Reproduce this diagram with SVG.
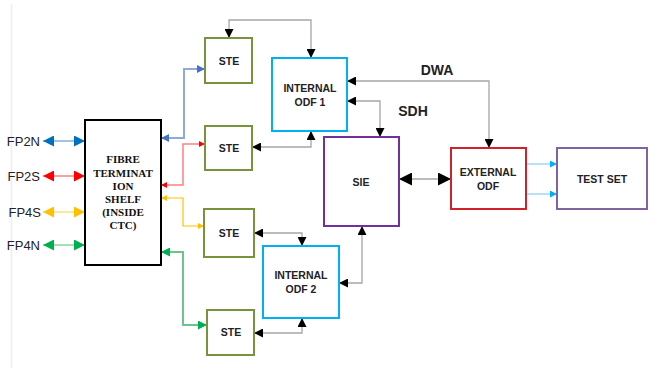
<svg xmlns="http://www.w3.org/2000/svg" width="649" height="370" viewBox="0 0 649 370">
<style>
.box{fill:#fff;stroke-width:2}
.ste{stroke:#77933c}
.odf{stroke:#00b0f0}
.lbl{font-family:"Liberation Sans",Arial,sans-serif;font-weight:bold;font-size:10.5px;fill:#222;text-anchor:middle}
.big{font-family:"Liberation Sans",Arial,sans-serif;font-weight:bold;font-size:14px;fill:#222;text-anchor:middle}
.fp{font-family:"Liberation Sans",Arial,sans-serif;font-size:13px;fill:#222;text-anchor:end}
.shelf{font-family:"Liberation Serif","Times New Roman",serif;font-weight:bold;font-size:11px;fill:#111;text-anchor:middle}
.g{fill:none;stroke:#a6a6a6;stroke-width:1.3;marker-start:url(#mk);marker-end:url(#mk)}
</style>
<defs>
<marker id="mk" viewBox="0 0 10 10" refX="10" refY="5" markerWidth="9" markerHeight="9" markerUnits="userSpaceOnUse" orient="auto-start-reverse"><path d="M0,0L10,5L0,10z" fill="#000"/></marker>
<marker id="mkb" viewBox="0 0 10 10" refX="10" refY="5" markerWidth="13" markerHeight="13" markerUnits="userSpaceOnUse" orient="auto-start-reverse"><path d="M0,0L10,5L0,10z" fill="#000"/></marker>
<marker id="fb" viewBox="0 0 10 10" refX="10" refY="5" markerWidth="12" markerHeight="11" markerUnits="userSpaceOnUse" orient="auto-start-reverse"><path d="M0,0L10,5L0,10z" fill="#0070c0"/></marker>
<marker id="fr" viewBox="0 0 10 10" refX="10" refY="5" markerWidth="12" markerHeight="11" markerUnits="userSpaceOnUse" orient="auto-start-reverse"><path d="M0,0L10,5L0,10z" fill="#ff0000"/></marker>
<marker id="fy" viewBox="0 0 10 10" refX="10" refY="5" markerWidth="12" markerHeight="11" markerUnits="userSpaceOnUse" orient="auto-start-reverse"><path d="M0,0L10,5L0,10z" fill="#ffc000"/></marker>
<marker id="fg" viewBox="0 0 10 10" refX="10" refY="5" markerWidth="12" markerHeight="11" markerUnits="userSpaceOnUse" orient="auto-start-reverse"><path d="M0,0L10,5L0,10z" fill="#00b050"/></marker>
<marker id="cb" viewBox="0 0 10 10" refX="10" refY="5" markerWidth="8" markerHeight="8" markerUnits="userSpaceOnUse" orient="auto-start-reverse"><path d="M0,0L10,5L0,10z" fill="#4472c4"/></marker>
<marker id="cr" viewBox="0 0 10 10" refX="10" refY="5" markerWidth="7" markerHeight="6" markerUnits="userSpaceOnUse" orient="auto-start-reverse"><path d="M0,0L10,5L0,10z" fill="#ff0000"/></marker>
<marker id="cy" viewBox="0 0 10 10" refX="10" refY="5" markerWidth="7" markerHeight="6" markerUnits="userSpaceOnUse" orient="auto-start-reverse"><path d="M0,0L10,5L0,10z" fill="#ffc000"/></marker>
<marker id="cg" viewBox="0 0 10 10" refX="10" refY="5" markerWidth="10" markerHeight="9" markerUnits="userSpaceOnUse" orient="auto-start-reverse"><path d="M0,0L10,5L0,10z" fill="#00b050"/></marker>
<marker id="ct" viewBox="0 0 10 10" refX="10" refY="5" markerWidth="8" markerHeight="7" markerUnits="userSpaceOnUse" orient="auto"><path d="M0,0L10,5L0,10z" fill="#00b0f0"/></marker>
</defs>
<line x1="11.5" y1="4" x2="11.5" y2="368" stroke="#eeeeee" stroke-width="1.5"/>
<g id="connectors">
<path d="M43,141H85" fill="none" stroke="#9dc3e6" stroke-width="2" marker-start="url(#fb)" marker-end="url(#fb)"/>
<path d="M43,176H85" fill="none" stroke="#ff8080" stroke-width="1.5" marker-start="url(#fr)" marker-end="url(#fr)"/>
<path d="M43,212H85" fill="none" stroke="#ffe699" stroke-width="2" marker-start="url(#fy)" marker-end="url(#fy)"/>
<path d="M43,245H85" fill="none" stroke="#a9dcb8" stroke-width="2" marker-start="url(#fg)" marker-end="url(#fg)"/>
<path d="M161,138H184V69H205" fill="none" stroke="#8eaadb" stroke-width="2" marker-start="url(#cb)" marker-end="url(#cb)"/>
<path d="M161,185H183V144H205" fill="none" stroke="#ff8080" stroke-width="1.5" marker-start="url(#cr)" marker-end="url(#cr)"/>
<path d="M161,198H183V226H204" fill="none" stroke="#ffc000" stroke-width="1.2" marker-start="url(#cy)" marker-end="url(#cy)"/>
<path d="M161,252H183V325H207" fill="none" stroke="#6cc48a" stroke-width="2" marker-start="url(#cg)" marker-end="url(#cg)"/>
<path class="g" d="M229,38V20H311V58"/>
<path class="g" d="M252,147H311V131"/>
<path class="g" d="M347,81H489V148"/>
<path class="g" d="M347,101H380V137"/>
<path d="M399,179H451" fill="none" stroke="#a6a6a6" stroke-width="1.3" marker-start="url(#mkb)" marker-end="url(#mkb)"/>
<path class="g" d="M254,233H302V246"/>
<path class="g" d="M254,333H302V318"/>
<path class="g" d="M339,283H362V226"/>
<path d="M526,164H557" fill="none" stroke="#9dd9f5" stroke-width="1.5" marker-end="url(#ct)"/>
<path d="M526,194H557" fill="none" stroke="#9dd9f5" stroke-width="1.5" marker-end="url(#ct)"/>
</g>
<g id="fp-labels">
<text class="fp" x="40" y="146">FP2N</text>
<text class="fp" x="40" y="181">FP2S</text>
<text class="fp" x="41" y="217">FP4S</text>
<text class="fp" x="40" y="250">FP4N</text>
</g>
<g id="shelf">
<rect x="85" y="120" width="76" height="145" fill="#fff" stroke="#000" stroke-width="2"/>
<text class="shelf" x="123" y="163">FIBRE</text>
<text class="shelf" x="123" y="177">TERMINAT</text>
<text class="shelf" x="123" y="190">ION</text>
<text class="shelf" x="123" y="203">SHELF</text>
<text class="shelf" x="123" y="216">(INSIDE</text>
<text class="shelf" x="123" y="229">CTC)</text>
</g>
<g id="ste1"><rect class="box ste" x="205" y="38" width="47" height="45"/><text class="lbl" x="229" y="65">STE</text></g>
<g id="ste2"><rect class="box ste" x="205" y="126" width="47" height="44"/><text class="lbl" x="229" y="152">STE</text></g>
<g id="ste3"><rect class="box ste" x="204" y="209" width="50" height="48"/><text class="lbl" x="229" y="237">STE</text></g>
<g id="ste4"><rect class="box ste" x="207" y="310" width="47" height="45"/><text class="lbl" x="231" y="336">STE</text></g>
<g id="odf1"><rect class="box odf" x="272" y="58" width="75" height="73"/><text class="lbl" x="310" y="92">INTERNAL</text><text class="lbl" x="310" y="106">ODF 1</text></g>
<g id="odf2"><rect class="box odf" x="263" y="246" width="76" height="72"/><text class="lbl" x="301" y="279">INTERNAL</text><text class="lbl" x="301" y="293">ODF 2</text></g>
<g id="sie"><rect class="box" stroke="#7030a0" x="324" y="137" width="75" height="89"/><text class="lbl" x="361" y="186">SIE</text></g>
<g id="extodf"><rect class="box" stroke="#d0222a" x="451" y="148" width="75" height="61"/><text class="lbl" x="488" y="176">EXTERNAL</text><text class="lbl" x="488" y="190">ODF</text></g>
<g id="testset"><rect class="box" stroke="#8064a2" x="557" y="148" width="90" height="61"/><text class="lbl" x="602" y="183">TEST SET</text></g>
<g id="labels">
<text class="big" x="437" y="75">DWA</text>
<text class="big" x="413" y="116">SDH</text>
</g>
</svg>
